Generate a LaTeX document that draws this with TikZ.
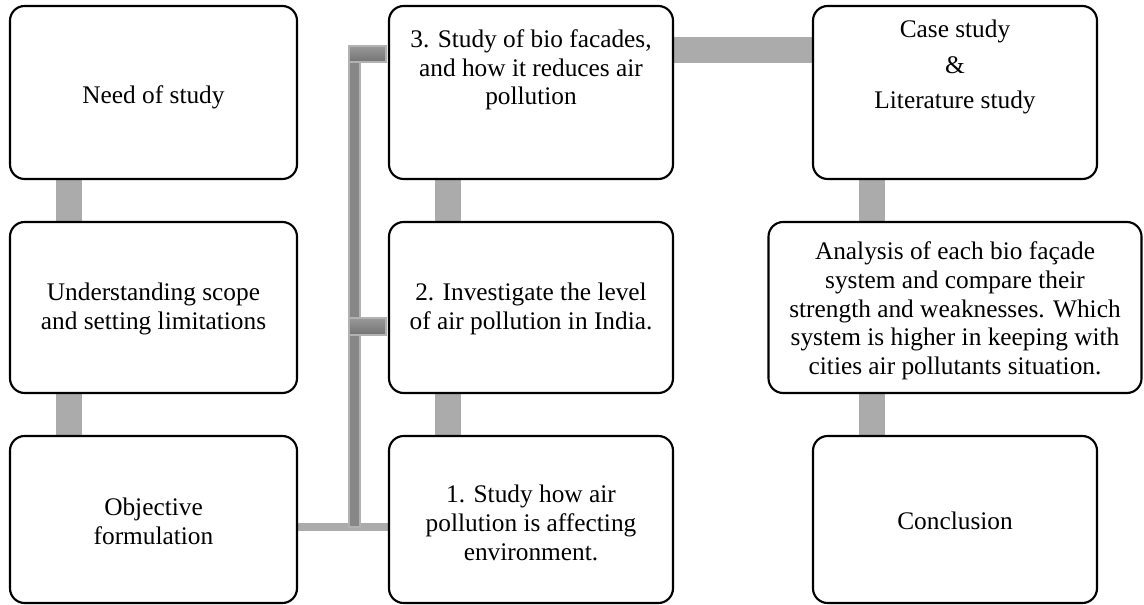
\documentclass[tikz,border=0pt]{standalone}
\usepackage{fontspec}
\setmainfont{Liberation Serif}
\begin{document}
\begin{tikzpicture}[x=0.75pt,y=-0.75pt,
  stepbox/.style={draw=black,line width=1.6pt,rounded corners=11pt,fill=white,inner sep=0pt},
  label/.style={font=\fontsize{19}{21.5}\selectfont,align=center,inner sep=0pt},
  bar/.style={fill=black!33,draw=none},
  darkbar/.style={fill=black!47,draw=black!30,line width=0.8pt}]
\useasboundingbox (0,0) rectangle (1144,605);
% connectors (behind boxes)
\fill[bar] (56,175) rectangle (82,226);
\fill[bar] (56,389) rectangle (82,440);
\fill[bar] (435,175) rectangle (461,226);
\fill[bar] (435,389) rectangle (461,440);
\fill[bar] (859,175) rectangle (885,226);
\fill[bar] (859,389) rectangle (885,440);
\fill[bar] (670,37) rectangle (816,63);
\fill[bar] (294,523) rectangle (392,531);
\path[darkbar] (349,46) rectangle (360,527);
\path[darkbar,top color=black!40,bottom color=black!55] (349,46) rectangle (386,62);
\path[darkbar,top color=black!40,bottom color=black!55] (349,318) rectangle (386,335);
% boxes
\node[stepbox,minimum width=287*0.75pt,minimum height=173*0.75pt] (a1) at (153.5,92.5) {};
\node[stepbox,minimum width=287*0.75pt,minimum height=171*0.75pt] (a2) at (153.5,307.5) {};
\node[stepbox,minimum width=287*0.75pt,minimum height=167*0.75pt] (a3) at (153.5,519.5) {};
\node[stepbox,minimum width=284*0.75pt,minimum height=173*0.75pt] (b1) at (531,92.5) {};
\node[stepbox,minimum width=284*0.75pt,minimum height=171*0.75pt] (b2) at (531,307.5) {};
\node[stepbox,minimum width=284*0.75pt,minimum height=167*0.75pt] (b3) at (531,519.5) {};
\node[stepbox,minimum width=284*0.75pt,minimum height=173*0.75pt] (c1) at (955,92.5) {};
\node[stepbox,minimum width=373*0.75pt,minimum height=171*0.75pt] (c2) at (955,307.5) {};
\node[stepbox,minimum width=284*0.75pt,minimum height=167*0.75pt] (c3) at (955,519.5) {};
% texts
\node[label] (ta1) at (153.5,97) {Need of study};
\node[label] (ta2) at (153.5,309) {Understanding scope\\and setting limitations};
\node[label] (ta3) at (153.5,521) {Objective\\formulation};
\node[label] (tb1) at (531,70) {3. Study of bio facades,\\and how it reduces air\\pollution};
\node[label] (tb2) at (531,309) {2. Investigate the level\\of air pollution in India.};
\node[label] (tb3) at (531,523) {1. Study how air\\pollution is affecting\\environment.};
\node[label] (tc1) at (955,67) {Case study\\[5pt]\&\\[5pt]Literature study};
\node[label] (tc2) at (955,311) {Analysis of each bio façade\\system and compare their\\strength and weaknesses. Which\\system is higher in keeping with\\cities air pollutants situation.};
\node[label] (tc3) at (955,521) {Conclusion};
\end{tikzpicture}
\end{document}
